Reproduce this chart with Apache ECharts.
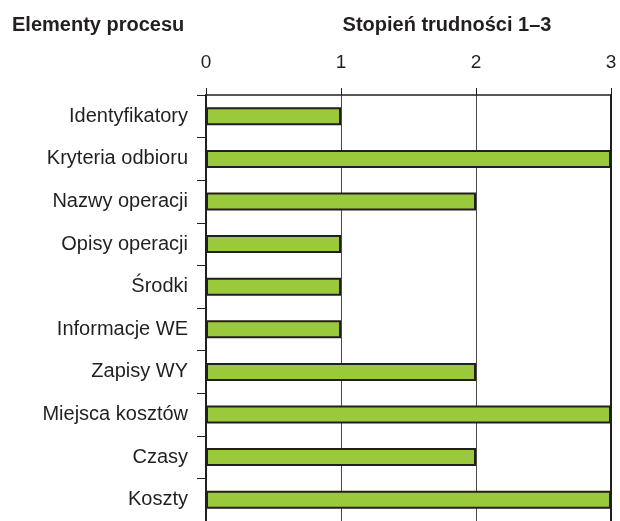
<!DOCTYPE html>
<html>
<head>
<meta charset="utf-8">
<script src="https://cdn.jsdelivr.net/npm/echarts@6/dist/echarts.min.js"></script>
<style>html,body{margin:0;padding:0;background:#fff}#c{width:620px;height:521px}</style>
</head>
<body>
<div id="c"></div>
<script>
const categories = ["Identyfikatory","Kryteria odbioru","Nazwy operacji","Opisy operacji","Środki","Informacje WE","Zapisy WY","Miejsca kosztów","Czasy","Koszty"];
const values = [1,3,2,1,1,1,2,3,2,3];
const xTicks = [0,1,2,3];
const leftTitle = "Elementy procesu";
const topTitle = "Stopień trudności 1–3";

const chart = echarts.init(document.getElementById('c'), null, {renderer:'canvas'});
const font = "'Liberation Sans', Arial, sans-serif";
const dark = '#231F20';
chart.setOption({
  animation: false,
  backgroundColor: '#fff',
  title: [
    {text: leftTitle, left: 12, top: 15, padding: 0, textStyle: {fontFamily: font, fontSize: 20, fontWeight: 'bold', color: dark}},
    {text: topTitle, left: 447, textAlign: 'center', top: 15, padding: 0, textStyle: {fontFamily: font, fontSize: 20, fontWeight: 'bold', color: dark}}
  ],
  grid: {left: 206, right: 9, top: 95, height: 428, containLabel: false},
  xAxis: {
    type: 'value', position: 'top', min: 0, max: 3, interval: 1,
    axisLine: {show: true, lineStyle: {color: dark, width: 1.5}},
    axisTick: {show: true, length: 7, lineStyle: {color: dark, width: 1}},
    axisLabel: {fontFamily: font, fontSize: 19, color: dark, margin: 23, formatter: v => xTicks.includes(v) ? String(v) : ''},
    splitLine: {show: true, lineStyle: {color: '#4a4a4a', width: 1}}
  },
  yAxis: [{
    type: 'category', data: categories, inverse: true,
    axisLine: {show: true, lineStyle: {color: dark, width: 2}},
    axisTick: {show: true, length: 9, lineStyle: {color: dark, width: 1}},
    axisLabel: {fontFamily: font, fontSize: 20, color: dark, margin: 18}
  },{
    type: 'category', data: categories, inverse: true, position: 'right',
    axisLine: {show: true, lineStyle: {color: dark, width: 2}},
    axisTick: {show: false}, axisLabel: {show: false}
  }],
  series: [{
    type: 'bar', data: values, barWidth: 18,
    itemStyle: {color: '#9ACA3C', borderColor: dark, borderWidth: 2}
  }]
});
</script>
</body>
</html>
